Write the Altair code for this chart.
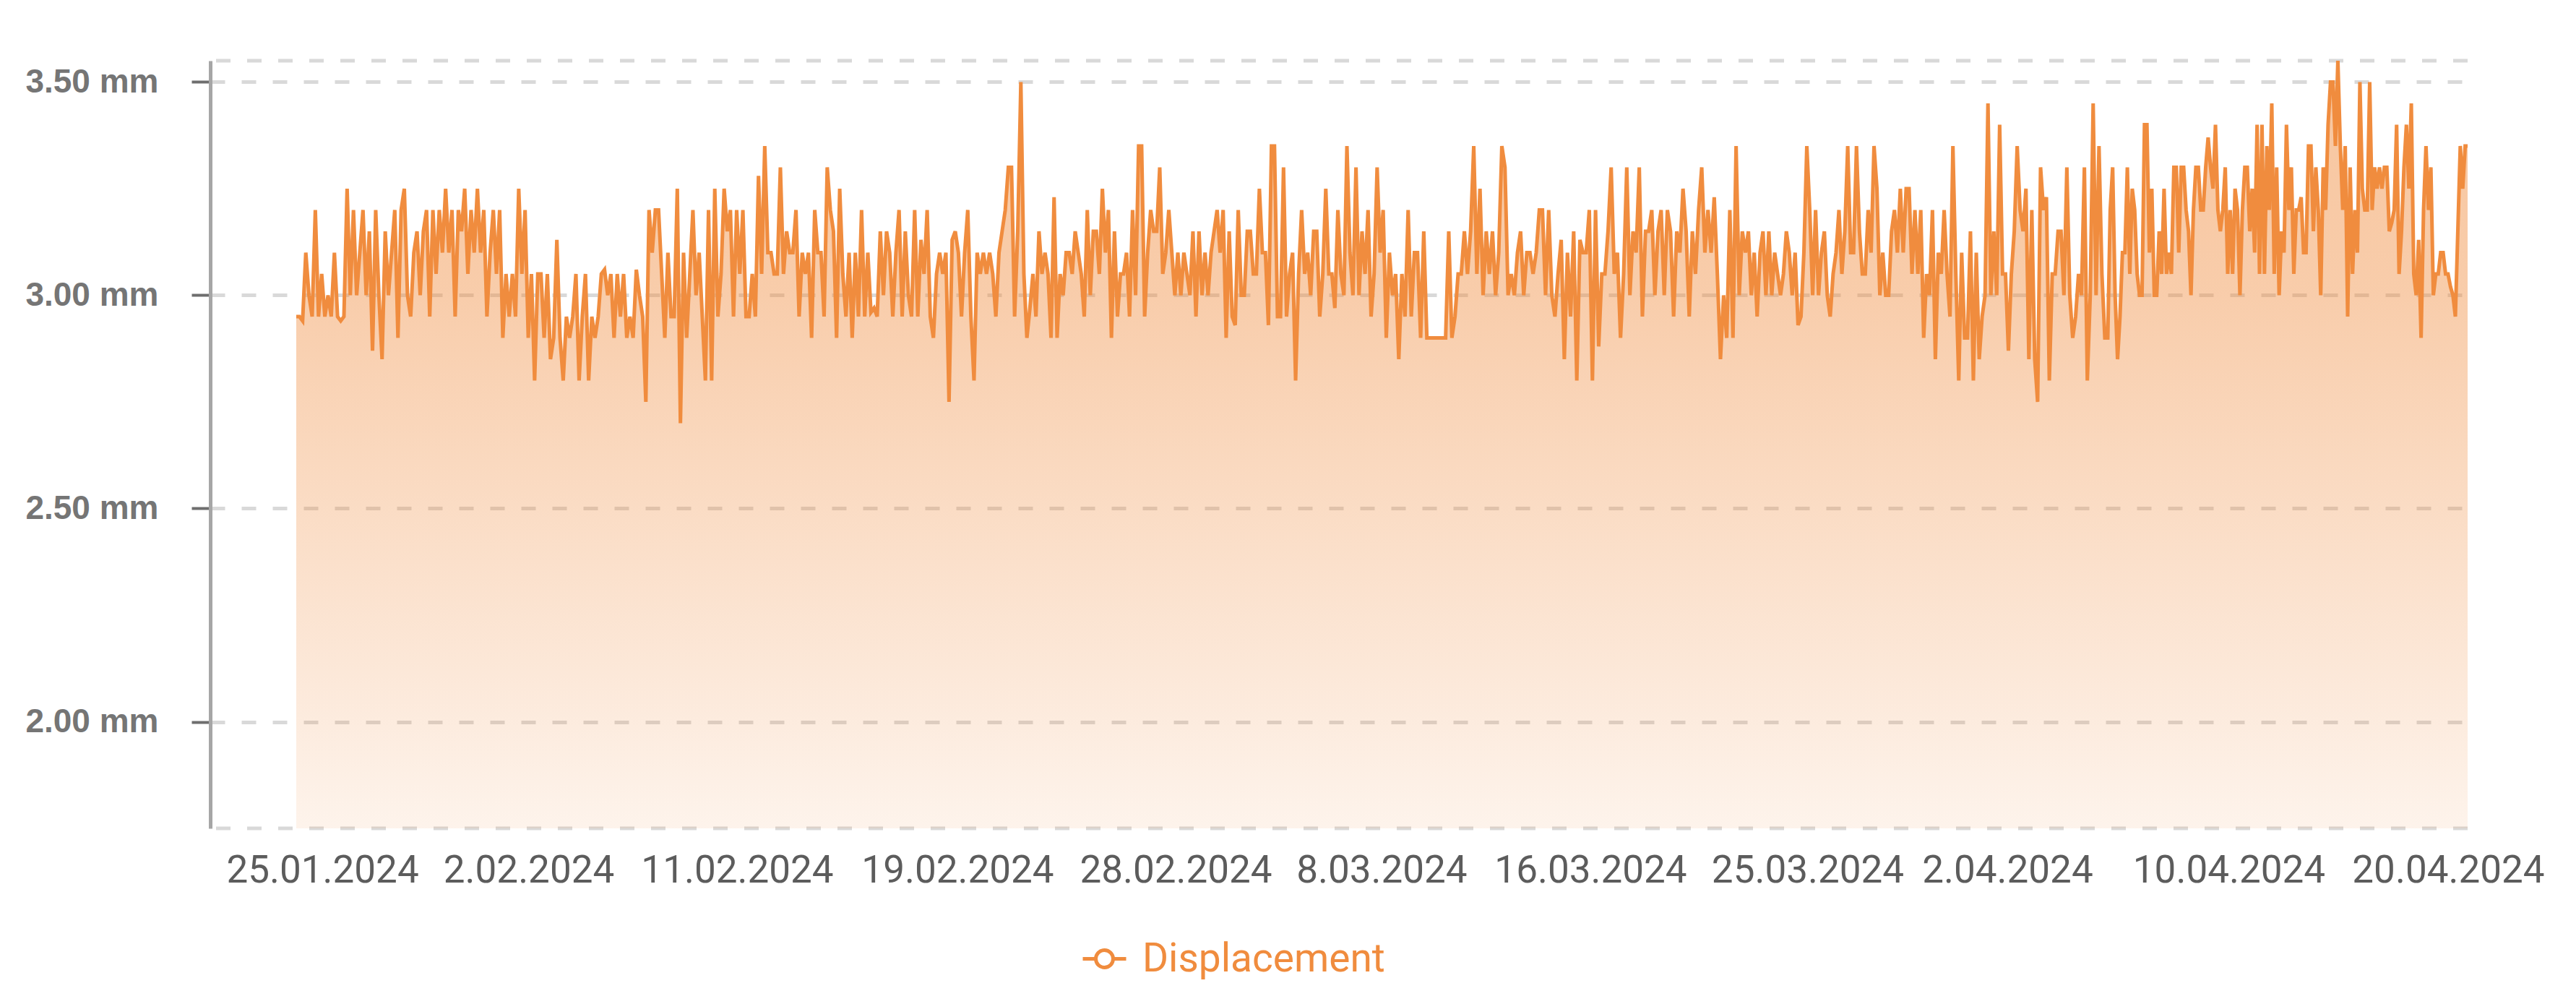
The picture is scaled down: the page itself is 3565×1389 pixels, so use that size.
import altair as alt
import pandas as pd

# Displacement readings (mm), read left to right off the reference, one list per
# equal-width stretch of the time axis (six stretches of about 500 px each)
seg1 = [2.95, 2.95, 2.94, 3.10, 3.00, 2.95, 3.20, 2.95, 3.05, 2.95, 3.00, 2.95, 3.10, 2.95, 2.94, 2.95,
        3.25, 3.00, 3.20, 3.00, 3.10, 3.20, 3.00, 3.15, 2.87, 3.20, 3.00, 2.85, 3.15, 3.00, 3.10, 3.20,
        2.90, 3.20, 3.25, 3.00, 2.95, 3.10, 3.15, 3.00, 3.15, 3.20, 2.95, 3.20, 3.05, 3.20, 3.10, 3.25,
        3.10, 3.20, 2.95, 3.20, 3.15, 3.25, 3.05, 3.20, 3.10, 3.25, 3.10, 3.20, 2.95, 3.10, 3.20, 3.05,
        3.20, 2.90, 3.05, 2.95, 3.05, 2.95, 3.25, 3.05, 3.20, 2.90, 3.05, 2.80, 3.05, 3.05, 2.90, 3.05,
        2.85, 2.90, 3.13, 2.90, 2.80, 2.95, 2.90, 2.95, 3.05, 2.80, 2.95, 3.05, 2.80, 2.95, 2.90, 2.95,
        3.05, 3.06, 3.00, 3.05, 2.90, 3.05, 2.95, 3.05, 2.90, 2.95, 2.90, 3.06, 3.00, 2.95, 2.75, 3.20,
        3.10, 3.20]
seg2 = [3.20, 3.05, 2.90, 3.10, 2.95, 2.95, 3.25, 2.70, 3.10, 2.90, 3.05, 3.20, 3.00, 3.10, 2.95, 2.80,
        3.20, 2.80, 3.25, 2.95, 3.05, 3.25, 3.15, 3.20, 2.95, 3.20, 3.05, 3.20, 2.95, 2.95, 3.05, 2.95,
        3.28, 3.05, 3.35, 3.10, 3.10, 3.05, 3.05, 3.30, 3.05, 3.15, 3.10, 3.10, 3.20, 2.95, 3.10, 3.05,
        3.10, 2.90, 3.20, 3.10, 3.10, 2.95, 3.30, 3.20, 3.15, 2.90, 3.25, 3.05, 2.95, 3.10, 2.90, 3.10,
        2.95, 3.20, 2.95, 3.10, 2.96, 2.97, 2.95, 3.15, 3.00, 3.15, 3.10, 2.95, 3.10, 3.20, 2.95, 3.15,
        3.00, 2.95, 3.20, 2.95, 3.13, 3.05, 3.20, 2.95, 2.90, 3.05, 3.10, 3.05, 3.10, 2.75, 3.13, 3.15,
        3.10, 2.95, 3.10, 3.20, 2.95, 2.80, 3.10, 3.05, 3.10, 3.05, 3.10, 3.05, 2.95, 3.10, 3.15, 3.20,
        3.30, 3.30, 2.95, 3.15]
seg3 = [3.50, 3.05, 2.90, 2.97, 3.05, 2.95, 3.15, 3.05, 3.10, 3.05, 2.90, 3.23, 2.90, 3.05, 3.00, 3.10,
        3.10, 3.05, 3.15, 3.10, 3.05, 2.95, 3.20, 3.00, 3.15, 3.15, 3.05, 3.25, 3.10, 3.20, 2.90, 3.15,
        2.95, 3.05, 3.05, 3.10, 2.95, 3.20, 3.00, 3.35, 3.35, 2.95, 3.10, 3.20, 3.15, 3.15, 3.30, 3.05,
        3.10, 3.20, 3.10, 3.00, 3.10, 3.00, 3.10, 3.05, 3.00, 3.15, 2.95, 3.15, 3.00, 3.10, 3.00, 3.10,
        3.15, 3.20, 3.10, 3.20, 2.90, 3.15, 2.95, 2.93, 3.20, 3.00, 3.00, 3.15, 3.15, 3.05, 3.05, 3.25,
        3.10, 3.10, 2.93, 3.35, 3.35, 2.95, 2.95, 3.30, 2.95, 3.05, 3.10, 2.80, 3.05, 3.20, 3.05, 3.10,
        3.00, 3.15, 3.15, 2.95, 3.05, 3.25, 3.05, 3.05, 2.97, 3.20, 3.05, 3.00, 3.35, 3.10, 3.00, 3.30,
        3.00, 3.15, 3.05, 3.20, 2.95, 3.05, 3.30, 3.10]
seg4 = [3.20, 2.90, 3.10, 3.00, 3.05, 2.85, 3.05, 2.95, 3.20, 2.95, 3.10, 3.10, 2.90, 3.15, 2.90, 2.90,
        2.90, 2.90, 2.90, 2.90, 2.90, 3.15, 2.90, 2.95, 3.05, 3.05, 3.15, 3.05, 3.15, 3.35, 3.05, 3.25,
        3.00, 3.15, 3.05, 3.15, 3.00, 3.10, 3.35, 3.30, 3.00, 3.05, 3.00, 3.10, 3.15, 3.00, 3.10, 3.10,
        3.05, 3.10, 3.20, 3.20, 3.00, 3.20, 3.00, 2.95, 3.05, 3.13, 2.85, 3.10, 2.95, 3.15, 2.80, 3.13,
        3.10, 3.10, 3.20, 2.80, 3.20, 2.88, 3.05, 3.05, 3.15, 3.30, 3.05, 3.10, 2.90, 3.05, 3.30, 3.00,
        3.15, 3.10, 3.30, 2.95, 3.15, 3.15, 3.20, 3.00, 3.15, 3.20, 3.00, 3.20, 3.15, 2.95, 3.15, 3.10,
        3.25, 3.15, 2.95, 3.15, 3.05, 3.20, 3.30, 3.10, 3.20, 3.10, 3.23, 3.05, 2.85, 3.00, 2.90, 3.20,
        2.90, 3.35, 3.00, 3.15]
seg5 = [3.10, 3.15, 3.00, 3.10, 2.95, 3.10, 3.15, 3.00, 3.15, 3.00, 3.10, 3.05, 3.00, 3.05, 3.15, 3.10,
        3.00, 3.10, 2.93, 2.95, 3.10, 3.35, 3.20, 3.00, 3.20, 3.00, 3.10, 3.15, 3.00, 2.95, 3.05, 3.10,
        3.20, 3.05, 3.15, 3.35, 3.10, 3.10, 3.35, 3.15, 3.05, 3.05, 3.20, 3.10, 3.35, 3.25, 3.00, 3.10,
        3.00, 3.00, 3.15, 3.20, 3.10, 3.25, 3.10, 3.25, 3.25, 3.05, 3.20, 3.05, 3.20, 2.90, 3.05, 3.00,
        3.20, 2.85, 3.10, 3.05, 3.20, 3.05, 2.95, 3.35, 3.05, 2.80, 3.10, 2.90, 2.90, 3.15, 2.80, 3.10,
        2.85, 2.95, 3.00, 3.45, 3.00, 3.15, 3.00, 3.40, 3.05, 3.05, 2.87, 3.05, 3.15, 3.35, 3.20, 3.15,
        3.25, 2.85, 3.20, 2.85, 2.75, 3.30, 3.20, 3.23, 2.80, 3.05, 3.05, 3.15, 3.15, 3.00, 3.30, 3.00,
        2.90, 2.95, 3.05, 3.00, 3.30, 2.80, 3.00, 3.45, 3.00, 3.35, 3.05, 2.90]
seg6 = [2.90, 3.20, 3.30, 3.00, 2.85, 2.95, 3.10, 3.10, 3.30, 3.05, 3.25, 3.20, 3.05, 3.00, 3.00, 3.40,
        3.40, 3.10, 3.25, 3.00, 3.00, 3.15, 3.05, 3.25, 3.05, 3.10, 3.05, 3.30, 3.30, 3.10, 3.30, 3.30,
        3.20, 3.15, 3.00, 3.20, 3.30, 3.30, 3.20, 3.20, 3.30, 3.37, 3.30, 3.25, 3.40, 3.20, 3.15, 3.20,
        3.30, 3.05, 3.20, 3.05, 3.25, 3.20, 3.00, 3.20, 3.30, 3.30, 3.15, 3.25, 3.10, 3.40, 3.05, 3.40,
        3.05, 3.35, 3.20, 3.45, 3.05, 3.30, 3.00, 3.15, 3.10, 3.40, 3.20, 3.30, 3.05, 3.20, 3.20, 3.23,
        3.10, 3.10, 3.35, 3.35, 3.15, 3.30, 3.20, 3.00, 3.30, 3.20, 3.40, 3.50, 3.50, 3.35, 3.55, 3.35,
        3.20, 3.35, 2.95, 3.30, 3.05, 3.20, 3.10, 3.50, 3.25, 3.20, 3.20, 3.50, 3.20, 3.30, 3.25, 3.30,
        3.25, 3.30, 3.30, 3.15, 3.17, 3.20, 3.40, 3.05, 3.15, 3.30, 3.40, 3.25, 3.45, 3.05, 3.00, 3.13,
        2.90, 3.20, 3.35, 3.20, 3.30, 3.00, 3.05, 3.05, 3.10, 3.10, 3.05, 3.05, 3.02, 3.00, 2.95, 3.15,
        3.35, 3.25, 3.35, 3.35]

segments = [seg1, seg2, seg3, seg4, seg5, seg6]

series_name = "Displacement"
tick_labels = ["25.01.2024", "2.02.2024", "11.02.2024", "19.02.2024", "28.02.2024", "8.03.2024",
               "16.03.2024", "25.03.2024", "2.04.2024", "10.04.2024", "20.04.2024"]
# where each label sits along the series (fraction of the whole stretch of readings)
tick_fracs = [0.012, 0.107, 0.203, 0.3045, 0.405, 0.4998, 0.596, 0.696, 0.788, 0.890, 0.991]

y_ticks = [2.0, 2.5, 3.0, 3.5]
y_edges = [1.75, 3.55]

# position of each reading along the axis: stretch number + its place inside the stretch
pos, vals = [], []
for k, seg in enumerate(segments):
    for j, v in enumerate(seg):
        pos.append(k + j / len(seg))
        vals.append(v)
last = pos[-1]

df = pd.DataFrame({"t": pos, "v": vals, "series": [series_name] * len(vals)})
edges = pd.DataFrame({"v": y_edges})

tick_vals = [round(f * last, 4) for f in tick_fracs]

ORANGE = "#F08C3E"
GRID = "#d9d9d9"

x_min = -0.0396 * last
xs = alt.Scale(domain=[x_min, last], nice=False, zero=False)
ys = alt.Scale(domain=[1.75, 3.55], nice=False, zero=False)

label_expr = ("[" + ",".join(f"'{t}'" for t in tick_labels) + "][indexof(["
              + ",".join(repr(t) for t in tick_vals) + "], datum.value)]")

x_axis = alt.Axis(values=tick_vals, labelExpr=label_expr, domain=False, ticks=False, grid=False,
                  labelFont="Roboto", labelFontSize=53, labelColor="#5c5c5c", labelPadding=32,
                  labelOverlap=False, labelFlush=False, labelBound=False, labelLimit=600, title=None)
y_axis = alt.Axis(values=y_ticks, labelExpr="format(datum.value, '.2f') + ' mm'",
                  domain=True, domainColor="#a6a6a6", domainWidth=5,
                  ticks=True, tickColor="#6e6e6e", tickWidth=4, tickSize=26,
                  labelFont="Liberation Sans", labelFontWeight="bold", labelFontSize=46,
                  labelColor="#757575", labelPadding=46, labelLimit=600,
                  grid=True, gridColor=GRID, gridWidth=5, gridDash=[20, 23], title=None)

rules = alt.Chart(edges).mark_rule(color=GRID, strokeWidth=5, strokeDash=[20, 23]).encode(
    y=alt.Y("v:Q", scale=ys)
)

area = alt.Chart(df).mark_area(
    color=alt.Gradient(
        gradient="linear", x1=0, x2=0, y1=0, y2=1,
        stops=[alt.GradientStop(color="rgba(240,140,62,0.50)", offset=0),
               alt.GradientStop(color="rgba(240,140,62,0.44)", offset=0.3),
               alt.GradientStop(color="rgba(240,140,62,0.10)", offset=1)],
    )
).encode(
    x=alt.X("t:Q", scale=xs, axis=x_axis),
    y=alt.Y("v:Q", scale=ys, axis=y_axis),
    y2=alt.datum(1.75),
)

symbol_path = "M-1,0L-0.4,0M0.4,0L1,0M-0.4,0A0.4,0.4,0,1,1,0.4,0A0.4,0.4,0,1,1,-0.4,0Z"

line = alt.Chart(df).mark_line(strokeWidth=5).encode(
    x=alt.X("t:Q", scale=xs),
    y=alt.Y("v:Q", scale=ys),
    color=alt.Color("series:N", scale=alt.Scale(domain=[series_name], range=[ORANGE]),
                    legend=alt.Legend(title=None, orient="none", legendX=1205, legendY=1210,
                                      symbolType=symbol_path, symbolSize=3600, symbolStrokeWidth=5,
                                      symbolFillColor="white", symbolStrokeColor=ORANGE,
                                      labelFont="Roboto", labelFontSize=55, labelColor=ORANGE,
                                      labelOffset=20, padding=0, labelLimit=1000)),
)

chart = alt.layer(rules, area, line).properties(
    width=3124, height=1062,
    padding={"left": 283, "top": 76, "right": 125, "bottom": 225},
    autosize=alt.AutoSizeParams(type="none"),
    background="white",
).configure_view(strokeWidth=0)

chart.save("out.html", embed_options={"renderer": "svg", "actions": False})
